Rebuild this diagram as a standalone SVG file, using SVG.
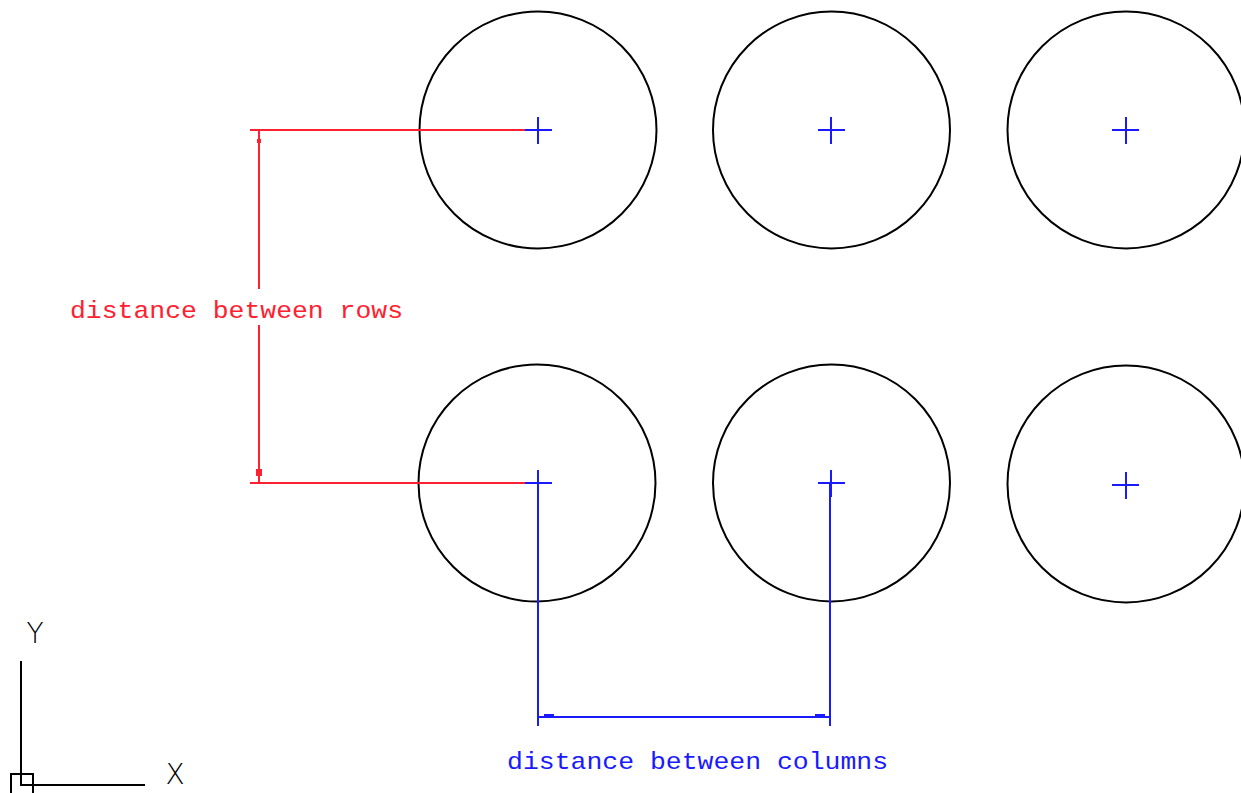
<svg xmlns="http://www.w3.org/2000/svg" width="1241" height="793" viewBox="0 0 1241 793">
<style>
.c{fill:none;stroke:#000;stroke-width:2}
.x{stroke:#1a1aff;stroke-width:2;fill:none}
.r{stroke:#ff2030;stroke-width:2;fill:none}
.b{stroke:#1a1aff;stroke-width:2;fill:none}
.t{font-family:"Liberation Mono","DejaVu Sans Mono",monospace;font-size:24px}
.u{stroke:#000;stroke-width:2;fill:none}
.l{font-family:"DejaVu Sans","Liberation Sans",sans-serif;font-size:28px;font-weight:200;text-anchor:middle;fill:#000}
</style>
<rect width="1241" height="793" fill="#fff"/>
<g id="circles">
<g id="c1"><circle class="c" cx="538" cy="130" r="118.5"/><path class="x" d="M525 130H552M538 117V144"/></g>
<g id="c2"><circle class="c" cx="831.5" cy="130" r="118.5"/><path class="x" d="M818 130H845M831 117V144"/></g>
<g id="c3"><circle class="c" cx="1126" cy="130" r="118.5"/><path class="x" d="M1112 130H1139M1126 117V144"/></g>
<g id="c4"><circle class="c" cx="537" cy="483" r="118.5"/><path class="x" d="M525 483H552M538 470V497"/></g>
<g id="c5"><circle class="c" cx="831.5" cy="483" r="118.5"/><path class="x" d="M818 483H845M831 470V497"/></g>
<g id="c6"><circle class="c" cx="1126" cy="484" r="118.5"/><path class="x" d="M1112 485H1139M1126 472V499"/></g>
</g>
<g id="connectors">
<g id="rows-dim">
<path class="r" d="M250 130H525M250 483H525M259 130V289M259 325V483"/>
<path d="M257 139h4v4h-4z M256 469h6v7h-6z" fill="#ff2030"/>
<text class="t" x="70" y="318" fill="#ff2030" textLength="333" lengthAdjust="spacingAndGlyphs">distance between rows</text>
</g>
<g id="cols-dim">
<path class="b" d="M538 483V726M830 483V726M538 717H830"/>
<path d="M544 714h10v3h-10z M815 714h10v3h-10z" fill="#1a1aff"/>
<text class="t" x="507" y="769" fill="#1a1aff" textLength="381" lengthAdjust="spacingAndGlyphs">distance between columns</text>
</g>
</g>
<g id="ucs">
<path class="u" d="M21 661V785H145"/>
<rect class="u" x="11" y="774" width="22" height="20"/>
<text class="l" x="35" y="643">Y</text>
<text class="l" x="175" y="784">X</text>
</g>
</svg>
